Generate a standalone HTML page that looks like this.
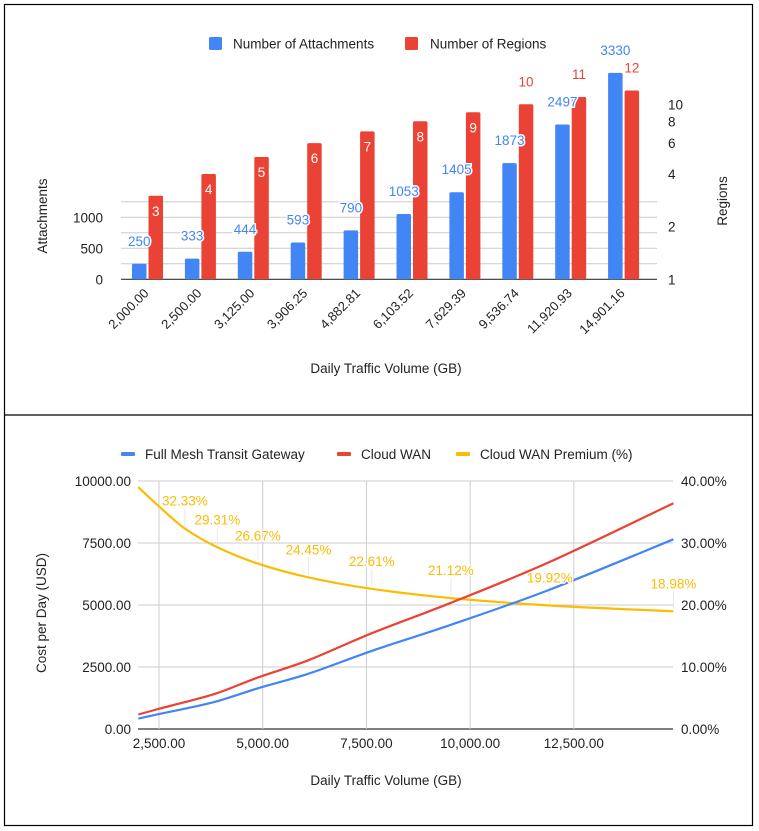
<!DOCTYPE html>
<html><head><meta charset="utf-8"><style>
html,body{margin:0;padding:0;background:#fff;}
svg{display:block;font-family:"Liberation Sans",Arial,sans-serif;}
</style></head><body>
<svg id="root" width="759" height="831" viewBox="0 0 759 831">
<rect x="4.5" y="4.5" width="748" height="821" fill="none" stroke="#000" stroke-width="1.2"/>
<line x1="4" y1="415" x2="753" y2="415" stroke="#000" stroke-width="1.2"/>
<g id="topChart"></g>
<g id="botChart"></g>
</svg>
<script>
// ---- Top chart data ----
const barCats = ["2,000.00","2,500.00","3,125.00","3,906.25","4,882.81","6,103.52","7,629.39","9,536.74","11,920.93","14,901.16"];
const attachments = [250,333,444,593,790,1053,1405,1873,2497,3330];
const regions = [3,4,5,6,7,8,9,10,11,12];
const leftTicks = [0,500,1000];
const rightTicks = [1,2,4,6,8,10];
// ---- Bottom chart data ----
const volumes = [2000,2500,3125,3906.25,4882.81,6103.52,7629.39,9536.74,11920.93,14901.16];
const tgwCost = [420,600,820,1120,1640,2230,3150,4200,5620,7650];
const wanCost = [584,815,1085,1448,2077,2775,3862,5087,6739,9102];
const premium = [39.0,35.9,32.33,29.31,26.67,24.45,22.61,21.12,19.92,18.98];
const premiumLabels = ["","","32.33%","29.31%","26.67%","24.45%","22.61%","21.12%","19.92%","18.98%"];
const costTicks = [0,2500,5000,7500,10000];
const pctTicks = [0,10,20,30,40];
const xTicks = [2500,5000,7500,10000,12500];

const NS="http://www.w3.org/2000/svg";
function mk(parent,tag,attrs,text){const e=document.createElementNS(NS,tag);for(const k in attrs)e.setAttribute(k,attrs[k]);if(text!==undefined)e.textContent=text;parent.appendChild(e);return e;}

// ===== Top chart =====
const topG=document.getElementById('topChart');
const yA=v=>279.3-v*0.062;
const yR=v=>279.3-Math.log10(v)*175;
const cx=i=>147.5+i*52.9;
const PL=121,PR=657;
for(let v=0;v<=1250;v+=250){
  const g=mk(topG,'line',{x1:PL,x2:PR,y1:yA(v),y2:yA(v),stroke:v===0?'#333':'#ccc','stroke-width':v===0?1.2:1});
  
  
}
leftTicks.forEach(v=>{const t=mk(topG,'text',{x:103,y:yA(v)+5,'text-anchor':'end','font-size':13.5,fill:'#222'},String(v));
  });
rightTicks.forEach(v=>{const t=mk(topG,'text',{x:668,y:yR(v)+5,'font-size':13.5,fill:'#222'},String(v));
  });
barCats.forEach((c,i)=>{
  const bw=14.5;
  const bx=cx(i)-bw-1, rx=cx(i)+1;
  const b=mk(topG,'rect',{x:bx,y:yA(attachments[i]),width:bw,height:279.3-yA(attachments[i]),fill:'#4285f4',rx:1.5});
  
  const r=mk(topG,'rect',{x:rx,y:yR(regions[i]),width:bw,height:279.3-yR(regions[i]),fill:'#ea4335',rx:1.5});
  
  const bl=mk(topG,'text',{x:bx+bw/2,y:yA(attachments[i])-18,'text-anchor':'middle','font-size':13.5,fill:'#4285f4',stroke:'#fff','stroke-width':3,'paint-order':'stroke'},String(attachments[i]));
  
  const inside=regions[i]<10;
  const rl=mk(topG,'text',{x:rx+bw/2,y:inside?yR(regions[i])+20:yR(regions[i])-18,'text-anchor':'middle','font-size':13.5,fill:inside?'#fff':'#ea4335'},String(regions[i]));
  
  const xl=mk(topG,'text',{x:0,y:0,'text-anchor':'end','font-size':13,fill:'#222',transform:`translate(${cx(i)+2},${294}) rotate(-45)`},c);
  
});
let t;
t=mk(topG,'text',{x:0,y:0,'text-anchor':'middle','font-size':13.5,fill:'#222',transform:'translate(47,216) rotate(-90)'},'Attachments');

t=mk(topG,'text',{x:0,y:0,'text-anchor':'middle','font-size':13.5,fill:'#222',transform:'translate(727,201) rotate(-90)'},'Regions');

t=mk(topG,'text',{x:386,y:373,'text-anchor':'middle','font-size':13.5,fill:'#222'},'Daily Traffic Volume (GB)');

t=mk(topG,'rect',{x:209,y:37,width:13,height:13,fill:'#4285f4',rx:1.5});

t=mk(topG,'text',{x:233,y:48.5,'font-size':13.5,fill:'#222'},'Number of Attachments');

t=mk(topG,'rect',{x:405,y:37,width:13,height:13,fill:'#ea4335',rx:1.5});

t=mk(topG,'text',{x:430,y:48.5,'font-size':13.5,fill:'#222'},'Number of Regions');


// ===== Bottom chart =====
const botG=document.getElementById('botChart');
const X=v=>159+(v-2500)*0.041484;
const YC=v=>729-v*248/10000;
const YP=v=>729-v*6.2;
const BL=138,BR=673;
costTicks.forEach(v=>{
  const g=mk(botG,'line',{x1:BL,x2:BR,y1:YC(v),y2:YC(v),stroke:v===0?'#333':'#ccc','stroke-width':v===0?1.2:1});
  
  const l=mk(botG,'text',{x:131,y:YC(v)+5,'text-anchor':'end','font-size':13.5,fill:'#222'},v.toFixed(2));
  
});
pctTicks.forEach(v=>{
  const l=mk(botG,'text',{x:681,y:YP(v)+5,'font-size':13.5,fill:'#222'},v.toFixed(2)+'%');
  
});
xTicks.forEach(v=>{
  const g=mk(botG,'line',{x1:X(v),x2:X(v),y1:481,y2:729,stroke:'#ccc','stroke-width':1});
  
  const l=mk(botG,'text',{x:X(v),y:748,'text-anchor':'middle','font-size':13.5,fill:'#222'},v.toLocaleString('en-US',{minimumFractionDigits:2}));
  
});
function drawLine(vals,yf,color,name){
  const pts=vals.map((v,i)=>[X(volumes[i]),yf(v)]);
  let d='M'+pts[0][0].toFixed(1)+','+pts[0][1].toFixed(1);
  for(let i=0;i<pts.length-1;i++){
    const p0=pts[Math.max(0,i-1)],p1=pts[i],p2=pts[i+1],p3=pts[Math.min(pts.length-1,i+2)];
    const c1=[p1[0]+(p2[0]-p0[0])/6,p1[1]+(p2[1]-p0[1])/6];
    const c2=[p2[0]-(p3[0]-p1[0])/6,p2[1]-(p3[1]-p1[1])/6];
    d+=' C'+c1[0].toFixed(1)+','+c1[1].toFixed(1)+' '+c2[0].toFixed(1)+','+c2[1].toFixed(1)+' '+p2[0].toFixed(1)+','+p2[1].toFixed(1);
  }
  const p=mk(botG,'path',{d:d,fill:'none',stroke:color,'stroke-width':2.2,'stroke-linejoin':'round'});
  
}
premium.forEach((v,i)=>{ if(!premiumLabels[i])return;
  const c=mk(botG,'line',{x1:X(volumes[i]),x2:X(volumes[i]),y1:YP(v)-20,y2:YP(v)-3,stroke:'#e8e8e8','stroke-width':1});
  
});
drawLine(premium,YP,'#fbbc04','series-premium-line');
drawLine(tgwCost,YC,'#4285f4','series-tgw-line');
drawLine(wanCost,YC,'#ea4335','series-cloud-wan-line');
premium.forEach((v,i)=>{ if(!premiumLabels[i])return;
  const l=mk(botG,'text',{x:X(volumes[i]),y:YP(v)-23,'text-anchor':'middle','font-size':13.5,fill:'#fbbc04',stroke:'#fff','stroke-width':2.5,'paint-order':'stroke'},premiumLabels[i]);
  
});
t=mk(botG,'text',{x:0,y:0,'text-anchor':'middle','font-size':13.5,fill:'#222',transform:'translate(46,613) rotate(-90)'},'Cost per Day (USD)');

t=mk(botG,'text',{x:386,y:785,'text-anchor':'middle','font-size':13.5,fill:'#222'},'Daily Traffic Volume (GB)');

const leg=[[121,145,'#4285f4','Full Mesh Transit Gateway','legend-entry-tgw'],[337,361,'#ea4335','Cloud WAN','legend-entry-cloud-wan'],[456,480,'#fbbc04','Cloud WAN Premium (%)','legend-entry-premium']];
leg.forEach(a=>{
  const s=mk(botG,'rect',{x:a[0],y:452,width:14,height:4,fill:a[2],rx:1});
  
  const l=mk(botG,'text',{x:a[1],y:459,'font-size':13.5,fill:'#222'},a[3]);
  
});
</script>
</body></html>
